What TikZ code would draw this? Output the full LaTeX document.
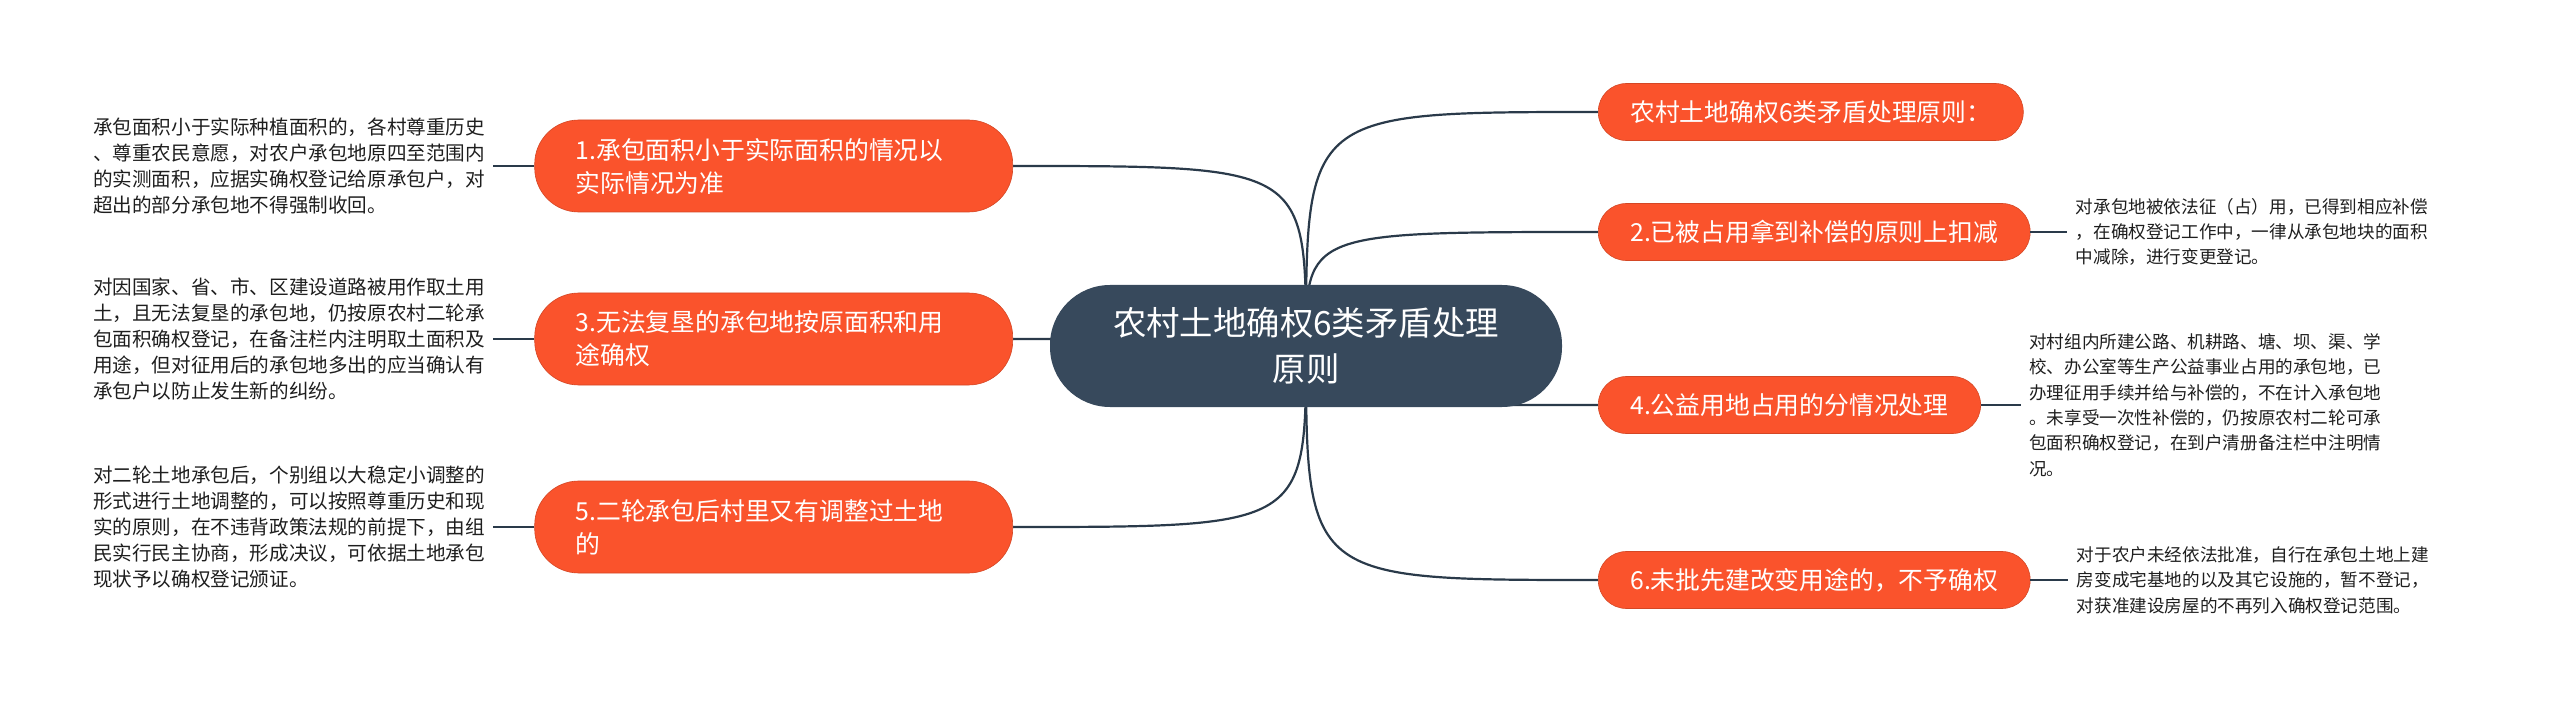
\documentclass[tikz,border=0pt]{standalone}
\usepackage{fontspec}
\usetikzlibrary{positioning,backgrounds}
\newfontfamily\cjk{Noto Sans CJK SC}
\definecolor{rootblue}{RGB}{55,73,92}
\definecolor{linkblue}{RGB}{42,58,74}
\definecolor{topicred}{RGB}{250,83,44}
\definecolor{notetext}{RGB}{30,30,30}

\begin{document}
\begin{tikzpicture}[
    x=0.5pt, y=-0.5pt,
    root/.style={fill=rootblue, text=white, rounded corners=30pt, minimum width=256pt, minimum height=61pt, inner sep=0pt, align=center, font=\cjk\fontsize{16.7}{23}\selectfont},
    topic/.style={fill=topicred, draw=topicred!85!black, line width=0.3pt, text=white, rounded corners=14pt, minimum height=28.5pt, inner xsep=16pt, anchor=west, font=\cjk\fontsize{12.4}{16.5}\selectfont},
    topicwide/.style={topic, rounded corners=22pt, minimum height=46pt, text width=198pt, inner xsep=20.5pt, align=left, anchor=east},
    note/.style={text=notetext, text width=196pt, inner xsep=4pt, inner ysep=0pt, align=left, font=\cjk\fontsize{9.8}{13}\selectfont},
    noteright/.style={note, text width=176pt, font=\cjk\fontsize{8.8}{12.7}\selectfont},
    link/.style={draw=linkblue, line width=1.1pt}
]
\useasboundingbox (0,0) rectangle (2560,711);

% Central topic
\node[root] (root) at (1306,346) {农村土地确权6类矛盾处理\\原则};

% Left topics (odd numbers)
\node[topicwide] (topic1) at (1013,166) {1.承包面积小于实际面积的情况以\\实际情况为准};
\node[topicwide] (topic3) at (1013,339) {3.无法复垦的承包地按原面积和用\\途确权};
\node[topicwide] (topic5) at (1013,527) {5.二轮承包后村里又有调整过土地\\的};

% Right topics (title + even numbers)
\node[topic] (topic0) at (1598,112) {农村土地确权6类矛盾处理原则：};
\node[topic] (topic2) at (1598,232) {2.已被占用拿到补偿的原则上扣减};
\node[topic] (topic4) at (1598,405) {4.公益用地占用的分情况处理};
\node[topic] (topic6) at (1598,580) {6.未批先建改变用途的，不予确权};

% Notes beside the topics
\node[note, left=20.5pt of topic1] (note1) {承包面积小于实际种植面积的，各村尊重历史\\、尊重农民意愿，对农户承包地原四至范围内\\的实测面积，应据实确权登记给原承包户，对\\超出的部分承包地不得强制收回。};
\node[note, left=20.5pt of topic3] (note3) {对因国家、省、市、区建设道路被用作取土用\\土，且无法复垦的承包地，仍按原农村二轮承\\包面积确权登记，在备注栏内注明取土面积及\\用途，但对征用后的承包地多出的应当确认有\\承包户以防止发生新的纠纷。};
\node[note, left=20.5pt of topic5] (note5) {对二轮土地承包后，个别组以大稳定小调整的\\形式进行土地调整的，可以按照尊重历史和现\\实的原则，在不违背政策法规的前提下，由组\\民实行民主协商，形成决议，可依据土地承包\\现状予以确权登记颁证。};
\node[noteright, right=18.5pt of topic2] (note2) {对承包地被依法征（占）用，已得到相应补偿\\，在确权登记工作中，一律从承包地块的面积\\中减除，进行变更登记。};
\node[noteright, right=20pt of topic4] (note4) {对村组内所建公路、机耕路、塘、坝、渠、学\\校、办公室等生产公益事业占用的承包地，已\\办理征用手续并给与补偿的，不在计入承包地\\。未享受一次性补偿的，仍按原农村二轮可承\\包面积确权登记，在到户清册备注栏中注明情\\况。};
\node[noteright, right=19pt of topic6] (note6) {对于农户未经依法批准，自行在承包土地上建\\房变成宅基地的以及其它设施的，暂不登记，\\对获准建设房屋的不再列入确权登记范围。};

% Links (behind the central topic)
\begin{pgfonlayer}{background}
\draw[link] (root.center) .. controls (root.center |- topic1.east) .. (topic1.east);
\draw[link] (root.center) .. controls (root.center |- topic3.east) .. (topic3.east);
\draw[link] (root.center) .. controls (root.center |- topic5.east) .. (topic5.east);
\draw[link] (root.center) .. controls (root.center |- topic0.west) .. (topic0.west);
\draw[link] (root.center) .. controls (root.center |- topic2.west) .. (topic2.west);
\draw[link] (root.center) .. controls (root.center |- topic4.west) .. (topic4.west);
\draw[link] (root.center) .. controls (root.center |- topic6.west) .. (topic6.west);
\end{pgfonlayer}

% Topic to note
\draw[link] (topic1) -- (note1);
\draw[link] (topic3) -- (note3);
\draw[link] (topic5) -- (note5);
\draw[link] (topic2) -- (note2);
\draw[link] (topic4) -- (note4);
\draw[link] (topic6) -- (note6);

\end{tikzpicture}
\end{document}
